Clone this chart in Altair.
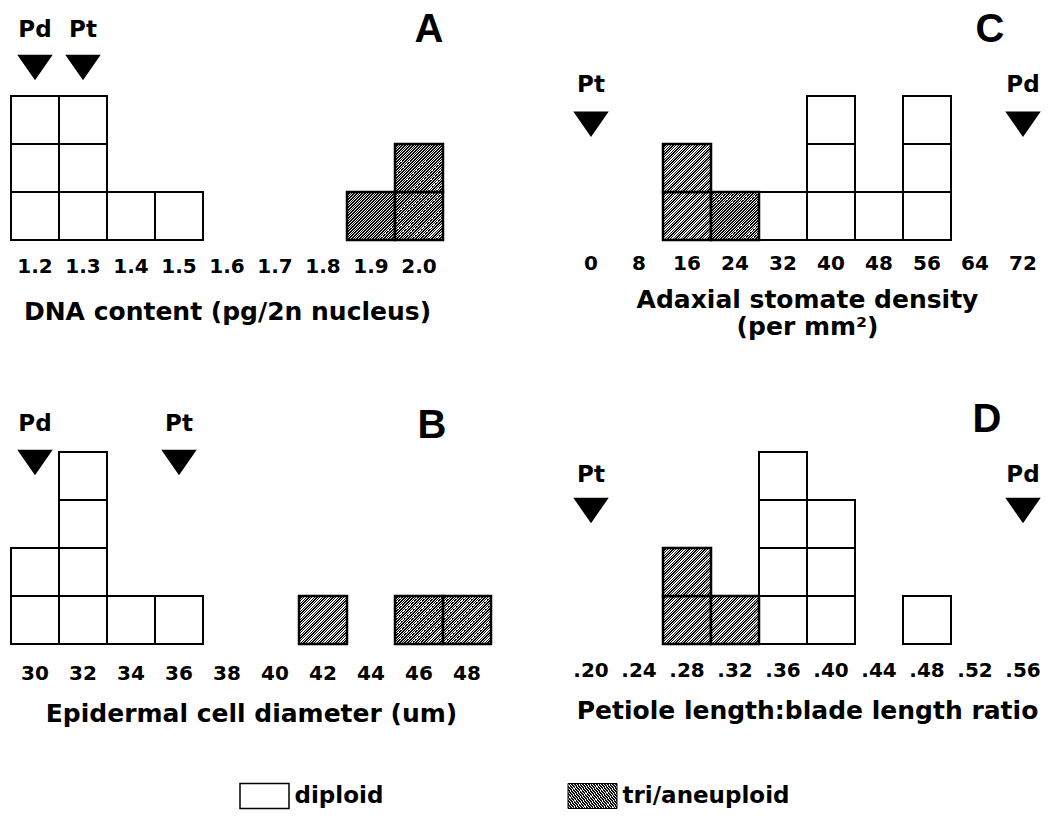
import altair as alt
import pandas as pd

# ---------------- data ----------------
A_bins = ["1.2", "1.3", "1.4", "1.5", "1.6", "1.7", "1.8", "1.9", "2.0"]
A_diploid = [3, 3, 1, 1, 0, 0, 0, 0, 0]
A_tri = [0, 0, 0, 0, 0, 0, 0, 1, 2]
A_markers = {"Pd": "1.2", "Pt": "1.3"}

B_bins = ["30", "32", "34", "36", "38", "40", "42", "44", "46", "48"]
B_diploid = [2, 4, 1, 1, 0, 0, 0, 0, 0, 0]
B_tri = [0, 0, 0, 0, 0, 0, 1, 0, 1, 1]
B_markers = {"Pd": "30", "Pt": "36"}

C_bins = ["0", "8", "16", "24", "32", "40", "48", "56", "64", "72"]
C_diploid = [0, 0, 0, 0, 1, 3, 1, 3, 0, 0]
C_tri = [0, 0, 2, 1, 0, 0, 0, 0, 0, 0]
C_markers = {"Pt": "0", "Pd": "72"}

D_bins = [".20", ".24", ".28", ".32", ".36", ".40", ".44", ".48", ".52", ".56"]
D_diploid = [0, 0, 0, 0, 4, 3, 0, 1, 0, 0]
D_tri = [0, 0, 2, 1, 0, 0, 0, 0, 0, 0]
D_markers = {"Pt": ".20", "Pd": ".56"}

legend_labels = ["diploid", "tri/aneuploid"]

# ---------------- styles ----------------
FONT = "DejaVu Sans"
UNIT = 48  # px per square
YMAX = 5


def hatch(n=36, dark=0.62, c1="#0a0a0a", c2="#f0f0f0"):
    stops = []
    for i in range(n):
        a = i / n
        b = (i + dark) / n
        e = (i + 1) / n
        stops += [
            {"offset": a, "color": c1},
            {"offset": b, "color": c1},
            {"offset": b, "color": c2},
            {"offset": e, "color": c2},
        ]
    return {"gradient": "linear", "x1": 0, "y1": 0, "x2": 1, "y2": 1, "stops": stops}


HATCH = hatch()


def squares(bins, dip, tri):
    rows = []
    for b, nd, nt in zip(bins, dip, tri):
        lvl = 0
        for _ in range(nt):
            rows.append({"bin": b, "lo": lvl, "hi": lvl + 1, "kind": "tri"})
            lvl += 1
        for _ in range(nd):
            rows.append({"bin": b, "lo": lvl, "hi": lvl + 1, "kind": "diploid"})
            lvl += 1
    return pd.DataFrame(rows)


def panel(bins, dip, tri, markers, letter, title, width,
          tri_level, lab_level, letter_bin, letter_level, letter_dx,
          label_pad, title_pad):
    df = squares(bins, dip, tri)
    xs = alt.X("bin:O", sort=bins,
               scale=alt.Scale(domain=bins, paddingInner=0, paddingOuter=0),
               axis=alt.Axis(title=title, labelAngle=0, domain=False, ticks=False,
                             grid=False,
                             labelFont=FONT, labelFontSize=20, labelFontWeight="bold",
                             labelColor="black", labelPadding=label_pad,
                             titleFont=FONT, titleFontSize=25, titleFontWeight="bold",
                             titleColor="black", titlePadding=title_pad,
                             titleLineHeight=27))
    ys = alt.Scale(domain=[0, YMAX])
    base = alt.Chart(df)
    dip_l = base.transform_filter(alt.datum.kind == "diploid").mark_rect(
        fill="white", stroke="black", strokeWidth=2).encode(
        x=xs, y=alt.Y("lo:Q", scale=ys, axis=None), y2="hi:Q")
    tri_l = base.transform_filter(alt.datum.kind == "tri").mark_rect(
        fill=HATCH, stroke="black", strokeWidth=2.5).encode(
        x=xs, y=alt.Y("lo:Q", scale=ys, axis=None), y2="hi:Q")
    mk = pd.DataFrame({"name": list(markers.keys()), "bin": list(markers.values())})
    mk["tri"] = tri_level
    mk["lab"] = lab_level
    mchart = alt.Chart(mk)
    tri_pts = mchart.mark_point(shape="M-1,-0.72L1,-0.72L0,0.72Z", filled=True,
                                fill="black", stroke="black", size=1000, opacity=1).encode(
        x=alt.X("bin:O", sort=bins), y=alt.Y("tri:Q", scale=ys, axis=None))
    labs = mchart.mark_text(font=FONT, fontSize=23, fontWeight="bold",
                            baseline="middle", color="black").encode(
        x=alt.X("bin:O", sort=bins), y=alt.Y("lab:Q", scale=ys, axis=None),
        text="name:N")
    let = alt.Chart(pd.DataFrame({"bin": [letter_bin], "t": [letter], "lv": [letter_level]})).mark_text(
        font="Liberation Sans", fontSize=40, fontWeight="bold", baseline="middle",
        color="black", dx=letter_dx).encode(
        x=alt.X("bin:O", sort=bins), y=alt.Y("lv:Q", scale=ys, axis=None), text="t:N")
    return alt.layer(dip_l, tri_l, tri_pts, labs, let).properties(
        width=width, height=UNIT * YMAX)


pA = panel(A_bins, A_diploid, A_tri, A_markers, "A", "DNA content (pg/2n nucleus)",
           432, 3.6, 4.38, "2.0", 4.38, 10, 16, 23)
pC = panel(C_bins, C_diploid, C_tri, C_markers, "C",
           ["Adaxial stomate density", "(per mm²)"],
           480, 2.42, 3.23, "64", 4.38, 15, 13, 14)
pB = panel(B_bins, B_diploid, B_tri, B_markers, "B", "Epidermal cell diameter (um)",
           480, 3.79, 4.58, "46", 4.54, 13, 19, 18)
pD = panel(D_bins, D_diploid, D_tri, D_markers, "D", "Petiole length:blade length ratio",
           480, 2.79, 3.52, ".52", 4.67, 12, 16, 18)

# legend (drawn just above its cell, below panel B/D axis titles)
lg = pd.DataFrame({"kind": legend_labels})
lx = alt.X("kind:N", sort=legend_labels, axis=None,
           scale=alt.Scale(type="point", domain=legend_labels, range=[253.5, 581.5],
                           padding=0))
lbase = alt.Chart(lg)
box_d = lbase.transform_filter(alt.datum.kind == "diploid").mark_rect(
    width=49, height=25, fill="white", stroke="black", strokeWidth=1.5).encode(
    x=lx, y=alt.value(-12))
box_t = lbase.transform_filter(alt.datum.kind != "diploid").mark_rect(
    width=49, height=25, fill=HATCH, stroke="black", strokeWidth=1).encode(
    x=lx, y=alt.value(-12))
ltxt = lbase.mark_text(font=FONT, fontSize=23, fontWeight="bold", align="left",
                       baseline="middle", dx=30, color="black").encode(
    x=lx, y=alt.value(-12), text="kind:N")
legend = alt.layer(box_d, box_t, ltxt).properties(width=432, height=1)

chart = alt.concat(pA, pC, pB, pD, legend, columns=2,
                   spacing={"row": 164, "column": 76}, bounds="flush").properties(
    padding={"left": 10, "top": 0, "right": 0, "bottom": 0},
    background="white",
).configure_view(strokeWidth=0, stroke=None)

chart.save("out.html", embed_options={"renderer": "svg", "actions": False})
